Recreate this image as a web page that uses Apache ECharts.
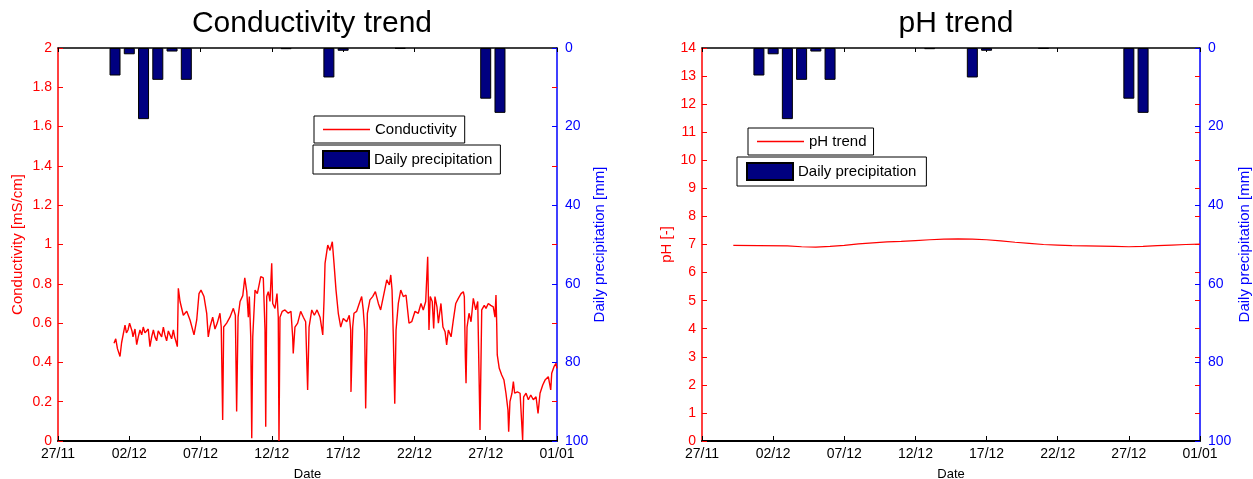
<!DOCTYPE html>
<html>
<head>
<meta charset="utf-8">
<script src="https://cdn.jsdelivr.net/npm/echarts@6/dist/echarts.min.js"></script>
<style>
html,body{margin:0;padding:0;background:#fff;}
#c{width:1253px;height:479px;}
</style>
</head>
<body>
<div id="c"></div>
<script>
// ---- data ----
const dateLabels = ['27/11','02/12','07/12','12/12','17/12','22/12','27/12','01/01'];

// days since 27/11 00:00
const condDays = [
3.93,4.05,4.17,4.35,4.46,4.58,4.70,4.80,4.91,5.02,5.12,5.19,5.26,5.40,5.52,5.63,5.75,5.87,5.98,6.10,6.22,6.33,6.45,6.57,6.69,6.80,6.92,7.03,7.15,7.27,7.39,7.50,7.62,7.74,7.86,7.97,8.09,8.18,8.26,8.37,8.44,8.56,8.79,9.03,9.26,9.54,9.73,9.89,10.03,
10.24,10.43,10.54,10.66,10.85,11.01,11.17,11.36,11.45,11.55,11.62,11.83,12.06,12.30,12.44,12.53,12.63,12.77,12.96,13.10,13.24,13.35,13.42,13.52,13.59,13.66,13.82,13.98,14.12,14.22,
14.40,14.52,14.57,14.64,14.75,14.87,14.99,15.06,15.22,15.36,15.45,15.50,15.57,15.73,15.92,16.15,16.34,16.46,16.50,16.62,16.81,17.02,17.21,17.37,17.51,17.61,17.80,17.98,18.17,18.38,
18.50,18.57,18.66,18.73,18.92,19.08,19.24,19.36,19.50,19.66,19.83,20.01,20.25,20.43,20.53,20.55,20.67,20.76,20.95,21.13,21.30,21.41,21.51,21.58,21.70,21.88,22.07,22.26,22.47,22.63,
22.82,23.06,23.24,23.34,23.43,23.52,23.62,23.71,23.87,24.04,24.22,24.41,24.62,24.81,25.04,25.27,25.46,25.62,25.79,25.93,26.02,26.11,26.25,26.35,26.44,26.58,26.68,26.86,27.00,27.15,
27.26,27.38,27.57,27.73,27.90,28.08,28.27,28.43,28.50,28.57,28.62,28.69,28.83,28.97,29.13,29.30,29.44,29.53,29.60,29.72,29.90,30.02,30.18,30.35,30.53,30.65,30.72,30.77,30.81,30.95,
31.12,31.28,31.42,31.56,31.61,31.70,31.84,31.94,32.03,32.22,32.41,32.52,32.59,32.66,32.83,32.99,33.16,33.34,33.53,33.67,33.81,34.00,34.16,34.39,34.56,34.63,34.79,34.93,34.99
];
const condValues = [
0.497,0.52,0.47,0.43,0.50,0.51,0.59,0.55,0.565,0.60,0.607,0.56,0.53,0.57,0.49,0.53,0.565,0.54,0.58,0.55,0.54,0.57,0.48,0.53,0.565,0.53,0.51,0.56,0.565,0.53,0.58,0.54,0.51,0.56,0.55,0.52,0.565,0.53,0.51,0.48,0.777,0.71,0.64,0.66,0.616,0.54,0.616,0.75,0.768,
0.735,0.65,0.53,0.58,0.63,0.57,0.60,0.65,0.58,0.107,0.58,0.60,0.63,0.675,0.64,0.15,0.63,0.71,0.74,0.83,0.76,0.63,0.735,0.53,0.014,0.53,0.768,0.75,0.80,0.836,
0.83,0.565,0.073,0.735,0.76,0.71,0.904,0.70,0.675,0.75,0.63,0.0,0.63,0.66,0.667,0.65,0.66,0.53,0.446,0.58,0.60,0.66,0.63,0.607,0.26,0.58,0.667,0.64,0.667,0.63,
0.624,0.54,0.718,0.904,0.997,0.97,1.014,0.904,0.768,0.65,0.58,0.624,0.607,0.64,0.565,0.25,0.58,0.65,0.66,0.70,0.735,0.667,0.565,0.166,0.65,0.718,0.735,0.76,0.70,0.667,
0.735,0.82,0.794,0.845,0.768,0.53,0.19,0.565,0.70,0.768,0.735,0.743,0.60,0.607,0.66,0.65,0.70,0.667,0.71,0.938,0.565,0.735,0.71,0.573,0.735,0.683,0.60,0.70,0.58,0.556,
0.489,0.565,0.53,0.616,0.70,0.726,0.75,0.76,0.735,0.43,0.294,0.58,0.65,0.607,0.726,0.667,0.71,0.345,0.056,0.667,0.69,0.675,0.70,0.69,0.683,0.63,0.743,0.60,0.438,0.37,
0.336,0.31,0.243,0.158,0.047,0.20,0.243,0.302,0.243,0.25,0.243,0.243,0.005,0.225,0.243,0.21,0.234,0.21,0.225,0.14,0.243,0.285,0.31,0.327,0.26,0.345,0.378,0.395,0.37
];

const phDays = [2.2,4,6,7,8,9,10,11,12,13,14,15,16,17,18,19,20,21,22,23,24,25,26,27,28,29,30,31,32,33,34,35];
const phValues = [6.97,6.96,6.95,6.92,6.91,6.93,6.97,7.02,7.06,7.09,7.11,7.14,7.17,7.19,7.20,7.19,7.17,7.13,7.08,7.04,7.00,6.98,6.96,6.95,6.94,6.93,6.92,6.93,6.96,6.98,7.00,7.01];

const precipDays = [4,5,6,7,8,9,16,19,20,24,30,31];
const precipMM = [7.0,1.6,18.1,8.1,0.9,8.1,0.3,7.5,0.7,0.2,12.9,16.5];

// ---- build ----
const condData = condDays.map((d,i)=>[d,condValues[i]]);
const phData = phDays.map((d,i)=>[d,phValues[i]]);
const precipData = precipDays.map((d,i)=>[d,precipMM[i]]);

const FONT = "'Liberation Sans', Arial, sans-serif";
const RED = '#ff0000', BLUE = '#0000ff';

function xBottom(g){
  return {type:'value', gridIndex:g, position:'bottom', min:0, max:35, interval:5,
    axisLine:{show:true, onZero:false, lineStyle:{color:'#000', width:2}},
    axisTick:{show:true, inside:true, length:5, lineStyle:{color:'#000', width:1}},
    axisLabel:{show:true, showMinLabel:true, showMaxLabel:true, color:'#000', fontSize:14, fontFamily:FONT, margin:6,
      formatter:v=>dateLabels[Math.round(v/5)]},
    splitLine:{show:false},
    name:'Date', nameLocation:'middle', nameGap:27,
    nameTextStyle:{color:'#000', fontSize:13, fontFamily:FONT}};
}
function xTop(g){
  return {type:'value', gridIndex:g, position:'top', min:0, max:35, interval:5,
    axisLine:{show:true, onZero:false, lineStyle:{color:'#000', width:1.5}},
    axisTick:{show:true, inside:true, length:4, lineStyle:{color:'#000'}},
    axisLabel:{show:false}, splitLine:{show:false}};
}
function yLeft(g,max,interval,name,gap){
  return {type:'value', gridIndex:g, position:'left', min:0, max:max, interval:interval,
    axisLine:{show:true, onZero:false, lineStyle:{color:RED, width:1.5}},
    axisTick:{show:true, inside:true, length:5, lineStyle:{color:RED}},
    axisLabel:{color:RED, fontSize:14, fontFamily:FONT, margin:6, showMinLabel:true, showMaxLabel:true},
    splitLine:{show:false},
    name:name, nameLocation:'middle', nameGap:gap, nameRotate:90,
    nameTextStyle:{color:RED, fontSize:15, fontFamily:FONT}};
}
function yMirror(g,max,interval){
  return {type:'value', gridIndex:g, position:'right', min:0, max:max, interval:interval,
    axisLine:{show:false, onZero:false},
    axisTick:{show:true, inside:true, length:5, lineStyle:{color:RED}},
    axisLabel:{show:false}, splitLine:{show:false}};
}
function yPrecip(g,gap){
  return {type:'value', gridIndex:g, position:'right', inverse:true, min:0, max:100, interval:20,
    axisLine:{show:true, onZero:false, lineStyle:{color:BLUE, width:1.5}},
    axisTick:{show:true, inside:true, length:5, lineStyle:{color:BLUE}},
    axisLabel:{color:BLUE, fontSize:14, fontFamily:FONT, margin:8, showMinLabel:true, showMaxLabel:true},
    splitLine:{show:false},
    name:'Daily precipitation [mm]', nameLocation:'middle', nameGap:gap, nameRotate:90,
    nameTextStyle:{color:BLUE, fontSize:15, fontFamily:FONT}};
}
function legendBox(name, left, top, isBar, padRight){
  return {data:[{name:name, icon:'rect'}],
    left:left, top:top, orient:'horizontal', selectedMode:false,
    itemWidth: isBar ? 46 : 47, itemHeight: isBar ? 17 : 1.5, itemGap:5,
    padding: isBar ? [5,padRight,5,9] : [6,padRight,6,9],
    backgroundColor:'#fff', borderColor:'#000', borderWidth:1, borderRadius:0,
    textStyle:{color:'#000', fontSize:15, fontFamily:FONT}};
}

const option = {
  animation:false,
  backgroundColor:'#fff',
  textStyle:{fontFamily:FONT},
  title:[
    {text:'Conductivity trend', left:307, top:4, textAlign:'center',
      textStyle:{fontSize:30, fontWeight:'normal', color:'#000', fontFamily:FONT}},
    {text:'pH trend', left:951, top:4, textAlign:'center',
      textStyle:{fontSize:30, fontWeight:'normal', color:'#000', fontFamily:FONT}}
  ],
  legend:[
    legendBox('Conductivity', 314, 116, false, 8),
    legendBox('Daily precipitation', 313, 145, true, 8),
    legendBox('pH trend', 748, 128, false, 7),
    legendBox('Daily precipitation', 737, 157, true, 10)
  ],
  grid:[
    {left:58, top:48, width:499, height:393, outerBoundsMode:'none', containLabel:false},
    {left:702, top:48, width:498, height:393, outerBoundsMode:'none', containLabel:false}
  ],
  xAxis:[xBottom(0), xTop(0), xBottom(1), xTop(1)],
  yAxis:[
    yLeft(0, 2, 0.2, 'Conductivity [mS/cm]', 33),
    yMirror(0, 2, 0.2),
    yPrecip(0, 32),
    yLeft(1, 14, 1, 'pH [-]', 28),
    yMirror(1, 14, 1),
    yPrecip(1, 37)
  ],
  series:[
    {name:'Conductivity', type:'line', xAxisIndex:0, yAxisIndex:0, data:condData,
      symbol:'none', lineStyle:{color:RED, width:1.4}, itemStyle:{color:RED}, z:3},
    {name:'Daily precipitation', type:'bar', xAxisIndex:0, yAxisIndex:2, data:precipData,
      barWidth:11, itemStyle:{color:'#000080', borderColor:'#000', borderWidth:1}, z:2},
    {name:'pH trend', type:'line', xAxisIndex:2, yAxisIndex:3, data:phData,
      symbol:'none', lineStyle:{color:RED, width:1.2}, itemStyle:{color:RED}, z:3},
    {name:'Daily precipitation', type:'bar', xAxisIndex:2, yAxisIndex:5, data:precipData,
      barWidth:11, itemStyle:{color:'#000080', borderColor:'#000', borderWidth:1}, z:2}
  ]
};

const chart = echarts.init(document.getElementById('c'), null, {renderer:'canvas'});
chart.setOption(option);
</script>
</body>
</html>
